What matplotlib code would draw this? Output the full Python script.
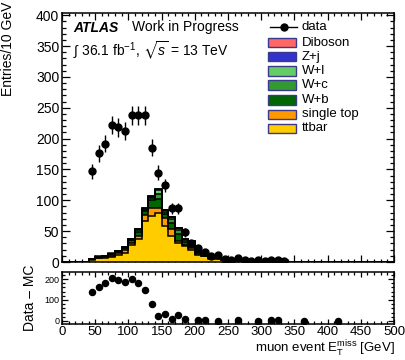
import numpy as np
import matplotlib
matplotlib.use("Agg")
import matplotlib.pyplot as plt
from matplotlib.patches import Rectangle
from matplotlib.lines import Line2D
from matplotlib.ticker import MultipleLocator

plt.rcParams['font.family'] = ['Liberation Sans', 'DejaVu Sans']
plt.rcParams['mathtext.fontset'] = 'custom'
plt.rcParams['mathtext.rm'] = 'Liberation Sans'
plt.rcParams['mathtext.it'] = 'Liberation Sans:italic'
plt.rcParams['mathtext.bf'] = 'Liberation Sans:bold'
plt.rcParams['mathtext.fallback'] = 'stixsans'

# 10 GeV bins from 0 to 500 GeV
bin_edges = np.arange(0, 510, 10)
bin_centers = 0.5 * (bin_edges[:-1] + bin_edges[1:])

# Monte Carlo samples (events per bin)
ttbar = [0, 0, 0, 0,
         3.5, 6, 7, 8.5, 11, 15, 27, 37, 66, 75, 80, 58, 42, 30, 26, 20,
         11, 9, 5, 5, 3, 2.5, 1.5, 1.8, 1.2, 0.6, 1.0, 0.4, 0.4, 0.5,
         0.3, 0.3, 0.2, 0.2, 0.2, 0.1, 0.1, 0.1, 0.1, 0.1, 0.05, 0.05, 0.05, 0.05, 0.05, 0.05]
single_top = [0, 0, 0, 0,
              0.8, 1.2, 1.5, 2.0, 3, 4, 4.5, 5, 10, 13, 8, 14, 12, 4, 2, 2,
              1.5, 1.0, 2, 1.5, 1, 0.5, 0.4, 0.5, 0.3, 0.2, 0.3, 0.2, 0.1, 0.2,
              0.1, 0.1, 0.05, 0.05, 0.05, 0.05, 0.02, 0.02, 0.02, 0.02, 0.01, 0.01, 0.01, 0.01, 0.01, 0.01]
w_b = [0, 0, 0, 0,
       0.5, 1.0, 1.0, 1.8, 2.5, 3, 3.5, 7, 7, 12, 14, 6, 10, 12, 5, 7,
       3, 2.5, 3, 1.5, 1.5, 1, 0.6, 0.7, 0.6, 0.3, 0.6, 0.2, 0.2, 0.3,
       0.1, 0.1, 0.1, 0.05, 0.05, 0.05, 0.05, 0.02, 0.02, 0.02, 0.02, 0.01, 0.01, 0.01, 0.01, 0.01]
w_c = [0, 0, 0, 0,
       0.2, 0.4, 0.5, 0.8, 1.0, 1.2, 1.2, 2.5, 2.0, 4.0, 8, 3.5, 5, 6, 2.5, 3,
       1.5, 1.0, 1.2, 0.6, 0.8, 0.4, 0.3, 0.3, 0.3, 0.1, 0.2, 0.1, 0.1, 0.1,
       0.05, 0.05, 0.05, 0.02, 0.02, 0.02, 0.02, 0.02, 0.01, 0.01, 0.01, 0.01, 0.01, 0.01, 0.01, 0.01]
w_l = [0, 0, 0, 0,
       0.1, 0.2, 0.3, 0.4, 0.5, 0.6, 0.5, 1.2, 1.5, 2.0, 7, 2, 3.5, 3, 1.5, 1.5,
       0.8, 0.5, 0.6, 0.3, 0.4, 0.3, 0.2, 0.2, 0.1, 0.05, 0.1, 0.05, 0.05, 0.05,
       0.02, 0.02, 0.02, 0.02, 0.01, 0.01, 0.01, 0.01, 0.01, 0.01, 0.01, 0.01, 0.01, 0.01, 0.01, 0.01]
z_jets = [0, 0, 0, 0,
          0.05, 0.1, 0.1, 0.2, 0.2, 0.3, 0.3, 0.3, 0.4, 0.5, 0.5, 0.3, 0.3, 0.2, 0.2, 0.2,
          0.1, 0.1, 0.1, 0.05, 0.1, 0.05, 0.03, 0.03, 0.02, 0.02, 0.02, 0.01, 0.01, 0.01,
          0, 0, 0, 0, 0, 0, 0, 0, 0, 0, 0, 0, 0, 0, 0, 0]
diboson = [0, 0, 0, 0,
           0.02, 0.05, 0.05, 0.1, 0.1, 0.1, 0.1, 0.1, 0.1, 0.2, 0.2, 0.1, 0.1, 0.1, 0.1, 0.1,
           0.1, 0.05, 0.05, 0.05, 0.05, 0.03, 0.02, 0.02, 0.02, 0.01, 0.01, 0.01, 0.01, 0.01,
           0, 0, 0, 0, 0, 0, 0, 0, 0, 0, 0, 0, 0, 0, 0, 0]

# Observed events per bin
data = [0, 0, 0, 0,
        147, 176, 192, 222, 218, 212, 238, 238, 238, 185, 145, 124, 87, 87, 48, 30,
        23, 17, 10, 11, 5, 4, 6, 3, 2, 3, 2, 3, 3, 1,
        0, 0, 0, 0, 0, 0, 0, 0, 0, 0, 0, 0, 0, 0, 0, 0]

# Data - MC (bins with a positive difference)
diff_centers = [45, 55, 65, 75, 85, 95, 105, 115, 125, 135, 145, 155, 165, 175, 185,
                205, 215, 235, 265, 295, 315, 325, 365, 415]
diff_values = [137, 162, 180, 206, 195, 184, 198, 182, 148, 79, 25, 33, 10, 29, 10,
               5, 3, 2, 3, 2, 3, 3, 2, 2]

# stacking order: bottom to top
stack_samples = [
    ("ttbar", ttbar, "#FFCC00"),
    ("single top", single_top, "#FF9900"),
    ("W+b", w_b, "#006600"),
    ("W+c", w_c, "#339933"),
    ("W+l", w_l, "#66CC66"),
    ("Z+j", z_jets, "#3333CC"),
    ("Diboson", diboson, "#FF6666"),
]

W, H = 405, 360
fig = plt.figure(figsize=(W / 100, H / 100), dpi=100)

ax = fig.add_axes([62 / W, 1 - 262 / H, 332 / W, (262 - 12.7) / H])
axr = fig.add_axes([62 / W, 1 - 324.3 / H, 332 / W, (324.3 - 271.7) / H], sharex=ax)

# stacked histograms
lower = np.zeros(len(bin_centers))
tops = []
for name, vals, col in stack_samples:
    upper = lower + np.asarray(vals, dtype=float)
    ax.stairs(upper, bin_edges, baseline=lower, fill=True, color=col, lw=0, zorder=2)
    tops.append(upper)
    lower = upper
for upper in tops:
    ax.stairs(upper, bin_edges, baseline=None, color="black", lw=1.1, zorder=3)

# data points
data_arr = np.asarray(data, dtype=float)
mask = data_arr > 0
ax.errorbar(bin_centers[mask], data_arr[mask], yerr=np.sqrt(data_arr[mask]),
            fmt="o", color="black", ms=5, elinewidth=1.0, capsize=0, zorder=5)

# Data - MC panel
axr.plot(diff_centers, diff_values, "o", color="black", ms=4.4, zorder=5)

# axes ranges and ticks
ax.set_xlim(0, 500)
ax.set_ylim(0, 404)
axr.set_ylim(-16, 235)

for a in (ax, axr):
    a.xaxis.set_major_locator(MultipleLocator(50))
    a.xaxis.set_minor_locator(MultipleLocator(10))
    for s in a.spines.values():
        s.set_linewidth(1.1)

ax.yaxis.set_major_locator(MultipleLocator(50))
ax.yaxis.set_minor_locator(MultipleLocator(10))
axr.yaxis.set_major_locator(MultipleLocator(100))
axr.yaxis.set_minor_locator(MultipleLocator(20))

ax.tick_params(axis="both", which="both", direction="in", top=True, right=True, width=0.9)
ax.tick_params(axis="y", which="major", length=5.8, labelsize=10, pad=2)
ax.tick_params(axis="y", which="minor", length=2.9)
ax.tick_params(axis="x", which="major", length=4.7, labelbottom=False)
ax.tick_params(axis="x", which="minor", length=2.4)

axr.tick_params(axis="both", which="both", direction="in", top=True, right=True, width=0.9)
axr.tick_params(axis="x", which="major", length=3.6, labelsize=9.5, pad=1.2)
axr.tick_params(axis="x", which="minor", length=1.9)
axr.tick_params(axis="y", which="major", length=4.3, labelsize=6.5, pad=2)
axr.tick_params(axis="y", which="minor", length=2.2)

# labels
fig.text(8 / W, 1 - 2 / H, "Entries/10 GeV", rotation=90, ha="center", va="top", fontsize=10)
fig.text(30 / W, 1 - 298 / H, "Data \u2013 MC", rotation=90, ha="center", va="center", fontsize=10)
fig.text(395 / W, 1 - 353 / H, r"muon event E$_{\rm T}^{\rm miss}$ [GeV]",
         ha="right", va="baseline", fontsize=9.5)

fig.text(73 / W, 1 - 31.5 / H, "ATLAS", fontsize=10, fontweight="bold", fontstyle="italic",
         ha="left", va="baseline")
fig.text(131.5 / W, 1 - 31.5 / H, "Work in Progress", fontsize=10, ha="left", va="baseline")
fig.text(73 / W, 1 - 56 / H, r"$\int$ 36.1 fb$^{-1}$, $\sqrt{s}$ = 13 TeV", fontsize=10,
         ha="left", va="baseline")

# legend
row_y = [27.3, 42.7, 56.7, 71, 85, 100, 114.3, 128.3]
legend_rows = [("data", None)] + [(n, c) for n, _, c in reversed(stack_samples)]
for (name, col), y in zip(legend_rows, row_y):
    yf = 1 - y / H
    if col is None:
        fig.add_artist(Line2D([270 / W, 297 / W], [yf, yf], color="black", lw=1.0,
                              transform=fig.transFigure))
        fig.add_artist(Line2D([283.5 / W], [yf], color="black", marker="o", ms=5,
                              transform=fig.transFigure))
    else:
        fig.add_artist(Rectangle((268 / W, yf - 4.7 / H), 28 / W, 9.4 / H, facecolor=col,
                                 edgecolor="#3a3a8c", lw=1.0, transform=fig.transFigure))
    fig.text(301.5 / W, yf, name, fontsize=9.5, ha="left", va="center")

fig.savefig("out.png", dpi=100)
